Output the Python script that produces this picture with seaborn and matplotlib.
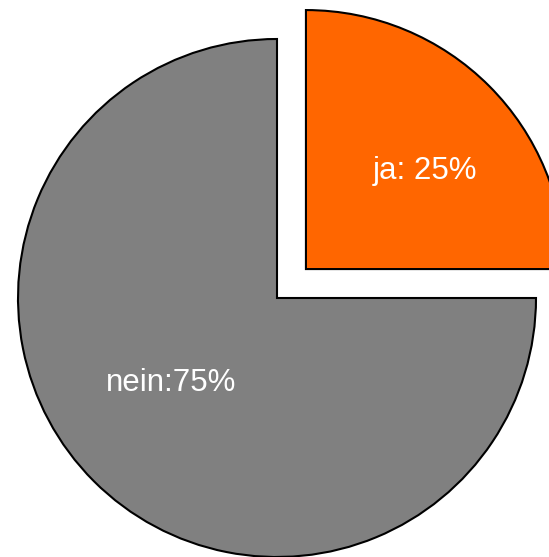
# pie chart: ja / nein share
import matplotlib
matplotlib.use("Agg")
import matplotlib.pyplot as plt
import seaborn as sns

labels = ["ja", "nein"]
values = [25, 75]
colors = ["#FF6600", "#808080"]
label_texts = ["ja: 25%", "nein:75%"]

sns.set_style("white")
plt.rcParams['font.family'] = ['Liberation Sans', 'DejaVu Sans']

fig = plt.figure(figsize=(5.49, 5.57), dpi=100)
ax = fig.add_axes([0, 0, 1, 1])

wedges, texts = ax.pie(values, labels=label_texts, colors=colors,
                       startangle=90, counterclock=False,
                       explode=[0.158, 0], labeldistance=0.6,
                       wedgeprops=dict(edgecolor="black", linewidth=1.5),
                       textprops=dict(color="white", fontsize=22.5))

# move labels to where they sit in the original
label_pos = [(0.571, 0.490), (-0.409, -0.328)]
for t, pos in zip(texts, label_pos):
    t.set_position(pos)
    t.set_ha("center")
    t.set_va("center")

r = 259.0
ax.set_xlim(-277 / r, 272 / r)
ax.set_ylim(-259 / r, 298 / r)
ax.set_aspect("auto")
ax.axis("off")

fig.savefig("out.png", dpi=100)
